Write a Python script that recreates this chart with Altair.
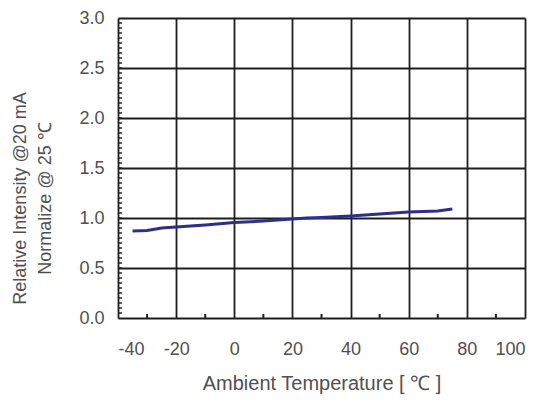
import altair as alt
import pandas as pd

# Data
temps = [-35, -30, -25, -20, -10, 0, 10, 20, 25, 30, 40, 50, 60, 70, 75]
intensity = [0.87, 0.875, 0.90, 0.91, 0.93, 0.955, 0.97, 0.99, 1.0, 1.005, 1.02, 1.04, 1.06, 1.07, 1.09]

x_ticks = [-40, -20, 0, 20, 40, 60, 80, 100]
y_ticks = [0.0, 0.5, 1.0, 1.5, 2.0, 2.5, 3.0]
x_minor = [-30, -10, 10, 30, 50, 70, 90]
y_minor = [round(v * 0.05, 2) for v in range(1, 60)]

df = pd.DataFrame({"t": temps, "i": intensity})
dfx = pd.DataFrame({"t": x_minor})
dfy = pd.DataFrame({"i": y_minor})

FONT = "Liberation Sans"
TXT = "#505050"

xs = alt.Scale(domain=[-40, 100], nice=False, zero=False)
ys = alt.Scale(domain=[0, 3], nice=False, zero=False)

xaxis = alt.Axis(values=x_ticks, title="Ambient Temperature [ ℃ ]", grid=True,
                 labelExpr="'' + datum.value",
                 gridColor="#1e1e1e", gridWidth=1.8, gridOpacity=1,
                 tickSize=0, domain=False, labelPadding=22, labelFont=FONT,
                 labelFontSize=18, labelColor=TXT, titleFont=FONT, titleFontSize=20,
                 titleFontWeight="normal", titleColor=TXT, titlePadding=15)
yaxis = alt.Axis(values=y_ticks, title=["Relative Intensity @20 mA", "Normalize @ 25 ℃"],
                 format=".1f", grid=True, gridColor="#1e1e1e", gridWidth=1.8, gridOpacity=1,
                 tickSize=0, domain=False, labelPadding=14, labelFont=FONT,
                 labelFontSize=18, labelColor=TXT, labelOffset=0,
                 titleFont=FONT, titleFontSize=18, titleFontWeight="normal",
                 titleColor=TXT, titleLineHeight=25, titleX=-89, titleY=180,
                 titleAngle=-90, titleAlign="center")

line = alt.Chart(df).mark_line(color="#2e2e8e", strokeWidth=3).encode(
    x=alt.X("t:Q", scale=xs, axis=xaxis),
    y=alt.Y("i:Q", scale=ys, axis=yaxis),
)

xminor = alt.Chart(dfx).mark_rule(color="#222222", strokeWidth=2).encode(
    x=alt.X("t:Q", scale=xs),
    y=alt.value(300), y2=alt.value(296),
)
yminor = alt.Chart(dfy).mark_rule(color="#222222", strokeWidth=1.5).encode(
    y=alt.Y("i:Q", scale=ys),
    x=alt.value(0), x2=alt.value(4),
)

chart = alt.layer(xminor, yminor, line).properties(
    width=407, height=300,
    autosize=alt.AutoSizeParams(type="none"),
    padding={"left": 110, "top": 10, "right": 20, "bottom": 85},
).configure_view(stroke="#1e1e1e", strokeWidth=2.5).configure(background="white")

chart.save("out.html", embed_options={"renderer": "svg", "actions": False})
